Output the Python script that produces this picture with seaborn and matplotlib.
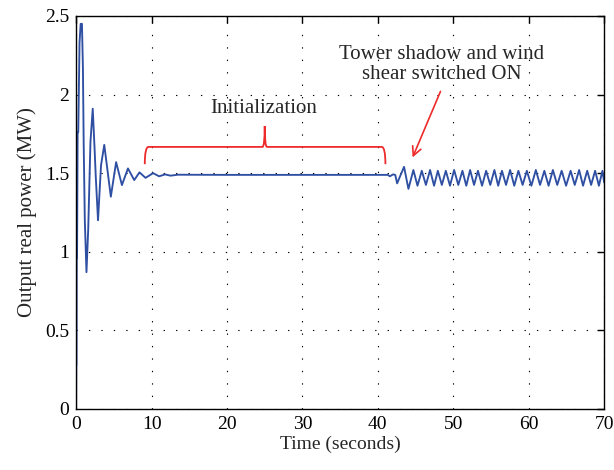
import numpy as np
import pandas as pd
import matplotlib
matplotlib.use("Agg")
import matplotlib.pyplot as plt
import seaborn as sns
from matplotlib.path import Path
from matplotlib.patches import PathPatch

# ---- data (turning points of the signal) ----
t_transient = [0.0, 0.02, 0.05, 0.08, 0.12, 0.2, 0.28, 0.45, 0.6, 0.77, 0.9, 1.0, 1.15, 1.37,
               1.6, 1.9, 2.2, 2.45, 2.6, 2.9, 3.3, 3.73, 4.6, 5.3, 6.07, 6.87, 7.7, 8.4,
               9.2, 10.2, 11.0, 11.8, 12.5, 13.5]
p_transient = [0.0, 0.28, 0.28, 0.96, 0.96, 1.76, 1.76, 2.33, 2.45, 2.45, 2.17, 1.69, 1.20, 0.87,
               1.14, 1.70, 1.91, 1.65, 1.48, 1.20, 1.55, 1.68, 1.35, 1.57, 1.424, 1.53, 1.456, 1.505,
               1.47, 1.50, 1.48, 1.492, 1.484, 1.49]

t_steady = [20.0, 30.0, 41.3, 41.6, 42.0, 42.3]
p_steady = [1.489, 1.489, 1.489, 1.48, 1.492, 1.489]

t_switch = [42.55]
p_switch = [1.435]

t_peaks = [43.47, 44.71, 45.82, 46.92, 47.95, 49.01, 50.11, 51.21, 52.23, 53.27, 54.35, 55.45,
           56.45, 57.53, 58.63, 59.75, 60.94, 62.07, 63.2, 64.36, 65.55, 66.68, 67.75, 68.8, 69.77]
p_peaks = [1.54, 1.52, 1.515, 1.52, 1.515, 1.515, 1.52, 1.515, 1.52, 1.515, 1.515, 1.52,
           1.515, 1.52, 1.515, 1.515, 1.52, 1.515, 1.52, 1.515, 1.515, 1.52, 1.515, 1.515, 1.515]
t_troughs = [44.05, 45.25, 46.37, 47.45, 48.48, 49.56, 50.66, 51.72, 52.75, 53.81, 54.9, 55.95,
             56.99, 58.08, 59.19, 60.35, 61.5, 62.63, 63.78, 64.95, 66.1, 67.2, 68.27, 69.3, 70.0]
p_troughs = [1.40, 1.42, 1.425, 1.42, 1.425, 1.42, 1.425, 1.42, 1.425, 1.42, 1.425, 1.42,
             1.425, 1.42, 1.425, 1.42, 1.425, 1.42, 1.425, 1.42, 1.425, 1.42, 1.425, 1.42, 1.44]

x_ticks = [0, 10, 20, 30, 40, 50, 60, 70]
y_ticks = [0, 0.5, 1, 1.5, 2, 2.5]
y_ticklabels = ["0", "0.5", "1", "1.5", "2", "2.5"]

# ---- assemble series ----
t_osc, p_osc = [], []
for a, b, c, d in zip(t_peaks, p_peaks, t_troughs, p_troughs):
    t_osc += [a, c]
    p_osc += [b, d]

df = pd.DataFrame({
    "time": t_transient + t_steady + t_switch + t_osc,
    "power": p_transient + p_steady + p_switch + p_osc,
})

sns.set_style("white")
plt.rcParams["font.family"] = ["Liberation Serif", "DejaVu Serif"]

fig = plt.figure(figsize=(6.14, 4.70), dpi=100)
ax = fig.add_axes([0.124, 0.130, 0.860, 0.836])

sns.lineplot(data=df, x="time", y="power", ax=ax, color="#2f4fa3", linewidth=1.35,
             sort=False, estimator=None)
for ln in ax.get_lines():
    ln.set_solid_joinstyle("round")

ax.set_xlim(0, 70)
ax.set_ylim(0, 2.5)
ax.set_xticks(x_ticks)
ax.set_xticklabels([str(v) for v in x_ticks])
ax.set_yticks(y_ticks)
ax.set_yticklabels(y_ticklabels)
ax.tick_params(direction="in", length=5, width=1, top=True, right=True,
               labelsize=14, colors="black", pad=5)
for s in ax.spines.values():
    s.set_visible(True)
    s.set_color("black")
    s.set_linewidth(1.0)

ax.grid(True, color="black", linestyle=(0, (1.2, 10)), linewidth=0.8)
ax.set_axisbelow(True)

ax.set_xlabel("Time (seconds)", fontsize=14, labelpad=2)
ax.set_ylabel("Output real power (MW)", fontsize=15, labelpad=6)

# ---- annotations ----
red = "#ee2b2b"
ax.text(24.8, 1.91, "Initialization", fontsize=15, ha="center", va="center")
verts = [(9.1, 1.557), (9.1, 1.667), (9.6, 1.667),
         (24.7, 1.667), (25.0, 1.667), (25.0, 1.80),
         (25.0, 1.667), (25.3, 1.667),
         (40.5, 1.667), (41.0, 1.667), (41.0, 1.557)]
codes = [Path.MOVETO, Path.CURVE3, Path.CURVE3,
         Path.LINETO, Path.CURVE3, Path.CURVE3,
         Path.CURVE3, Path.CURVE3,
         Path.LINETO, Path.CURVE3, Path.CURVE3]
ax.add_patch(PathPatch(Path(verts, codes), facecolor="none", edgecolor=red, linewidth=1.3))

ax.text(48.5, 2.19, "Tower shadow and wind\nshear switched ON", fontsize=15,
        ha="center", va="center", linespacing=1.1)
ax.annotate("", xy=(44.6, 1.60), xytext=(48.3, 2.02),
            arrowprops=dict(arrowstyle="->", color=red, lw=1.2,
                            mutation_scale=16, shrinkA=0, shrinkB=0))

fig.savefig("out.png", dpi=100, facecolor="white")
